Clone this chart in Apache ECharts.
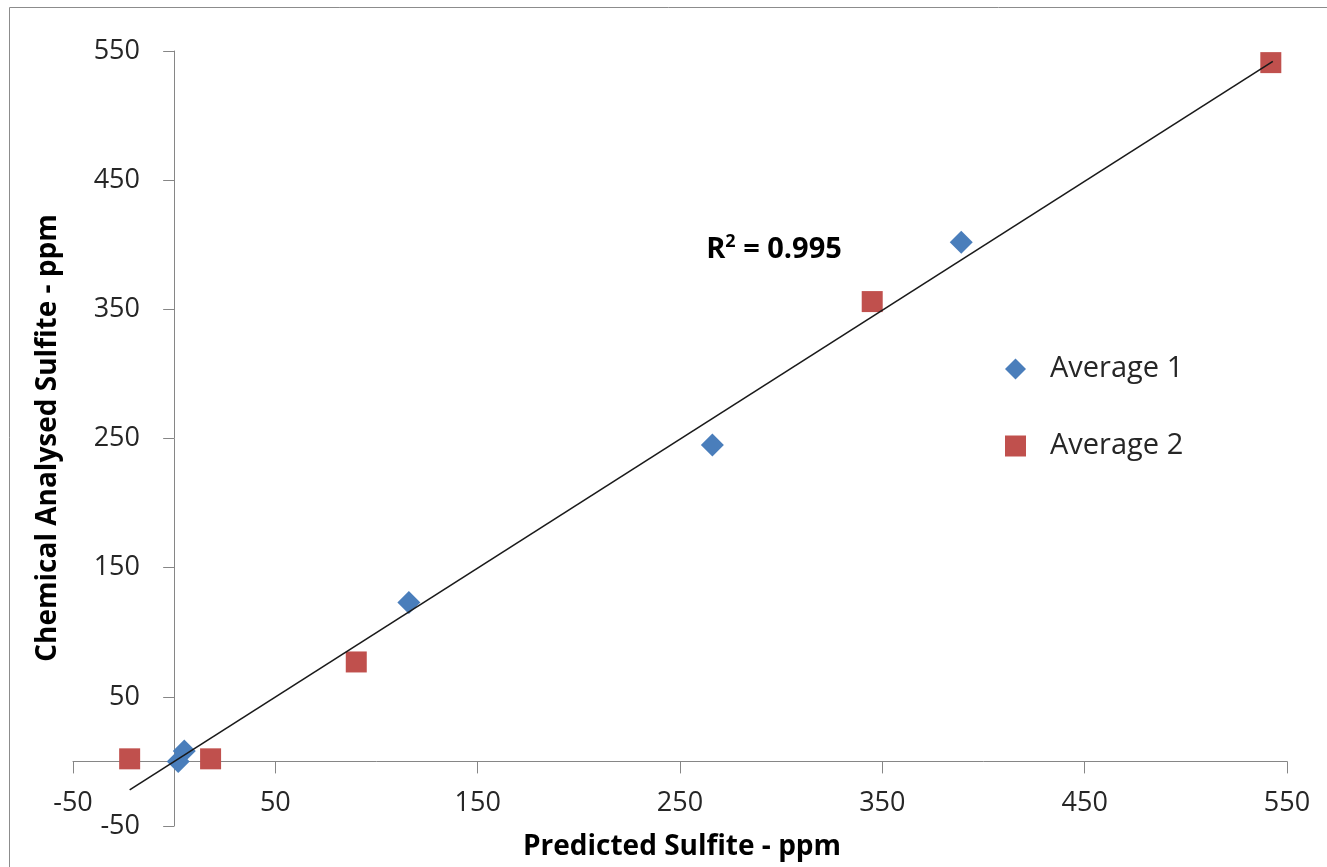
<!DOCTYPE html>
<html>
<head>
<meta charset="utf-8">
<title>Predicted vs Chemical Analysed Sulfite</title>
<script src="https://cdn.jsdelivr.net/npm/echarts@6/dist/echarts.min.js"></script>
<style>
  html, body { margin: 0; padding: 0; background: #fff; }
  #chart { width: 1327px; height: 867px; }
</style>
</head>
<body>
<div id="chart"></div>
<script>
// data: [predicted, chemical analysed]
const average1 = [[2, 0], [5, 8], [116, 123], [266, 245], [389, 402]];
const average2 = [[-22, 2], [18, 2], [90, 77], [345, 356], [542, 541]];
// linear trendline end points
const trendLine = [[-22, -22], [543, 542]];
const axisMin = -50;
const axisMax = 550;
const axisStep = 100;
const rSquared = "0.995";

const font = "Open Sans";
const axisGray = "#868686";
const labelColor = "#262626";

const chart = echarts.init(document.getElementById("chart"));

const config = {
  animation: false,
  backgroundColor: "#fff",
  grid: { left: 73, right: 40, top: 51, bottom: 41, containLabel: false, outerBoundsMode: "none" },
  xAxis: {
    type: "value",
    min: axisMin,
    max: axisMax,
    interval: axisStep,
    splitLine: { show: false },
    axisLine: { onZero: true, lineStyle: { color: axisGray, width: 1 } },
    axisTick: { show: true, inside: false, length: 12, lineStyle: { color: axisGray } },
    // labels sit just under the zero line, above the bottom edge of the plot
    axisLabel: { margin: -36, fontFamily: font, fontSize: 27, color: labelColor }
  },
  yAxis: {
    type: "value",
    min: axisMin,
    max: axisMax,
    interval: axisStep,
    splitLine: { show: false },
    axisLine: { onZero: true, lineStyle: { color: axisGray, width: 1 } },
    axisTick: { show: true, inside: false, length: 11, lineStyle: { color: axisGray } },
    axisLabel: { margin: -67, fontFamily: font, fontSize: 27, color: labelColor }
  },
  legend: {
    orient: "vertical",
    left: 1005,
    top: 354,
    padding: 0,
    itemWidth: 21,
    itemHeight: 21,
    itemGap: 47,
    data: ["Average 1", "Average 2"],
    textStyle: {
      fontFamily: font,
      fontSize: 29,
      lineHeight: 30,
      color: labelColor,
      padding: [0, 0, 0, 19]
    }
  },
  series: [
    {
      name: "Average 1",
      type: "scatter",
      symbol: "diamond",
      symbolSize: 23,
      itemStyle: { color: "#4A7EBB", opacity: 1 },
      data: average1
    },
    {
      name: "Average 2",
      type: "scatter",
      symbol: "rect",
      symbolSize: 21,
      itemStyle: { color: "#C0504D", opacity: 1 },
      data: average2
    },
    {
      name: "Trend",
      type: "line",
      symbol: "none",
      silent: true,
      lineStyle: { color: "#1a1a1a", width: 1.6 },
      data: trendLine,
      z: 5
    }
  ],
  graphic: [
    {
      type: "rect",
      shape: { x: 9.5, y: 7.5, width: 1400, height: 1000 },
      style: { fill: "none", stroke: "#8c8c8c", lineWidth: 1 },
      silent: true
    },
    {
      type: "text",
      x: 682,
      y: 847,
      style: {
        text: "Predicted Sulfite - ppm",
        fontFamily: font,
        fontSize: 28,
        fontWeight: "bold",
        fill: "#000",
        align: "center",
        verticalAlign: "middle"
      }
    },
    {
      type: "text",
      x: 48,
      y: 438,
      rotation: Math.PI / 2,
      style: {
        text: "Chemical Analysed Sulfite - ppm",
        fontFamily: font,
        fontSize: 28,
        fontWeight: "bold",
        fill: "#000",
        align: "center",
        verticalAlign: "middle"
      }
    },
    {
      type: "text",
      x: 774,
      y: 250,
      style: {
        text: "{b|R}{s|2}{b| = " + rSquared + "}",
        align: "center",
        verticalAlign: "middle",
        rich: {
          b: { fontFamily: font, fontSize: 29, fontWeight: "bold", fill: "#000", lineHeight: 34 },
          s: { fontFamily: font, fontSize: 18, fontWeight: "bold", fill: "#000", verticalAlign: "top", lineHeight: 26 }
        }
      }
    }
  ]
};

chart.setOption(config);
</script>
</body>
</html>
